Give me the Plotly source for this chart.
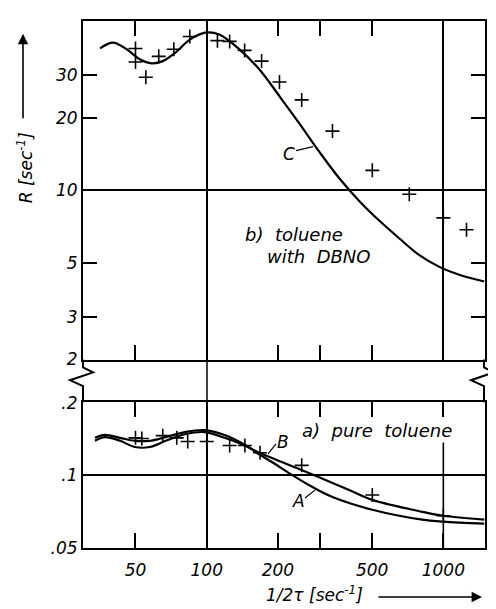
import plotly.graph_objects as go
import numpy as np

# ---------------- data ----------------
# panel b) toluene with DBNO : curve C and measured points
c_x = [35.4, 40.1, 45.9, 52.1, 58.6, 65.2, 74.7, 84.8, 100, 113, 137.8, 167.4, 203.2, 246.6, 299.8, 364, 442, 537, 652, 792, 962, 1168, 1489]
c_y = [38.7, 40.9, 38.4, 34.9, 33.6, 34.3, 37.6, 42.1, 45.1, 44.2, 38.3, 31.6, 24.5, 18.9, 14.4, 11.19, 9.02, 7.48, 6.32, 5.39, 4.82, 4.47, 4.19]
b_pts_x = [50, 50, 55.3, 62.7, 72.6, 84.8, 111, 125, 144.6, 170.6, 203, 252, 340, 501, 718, 1000, 1253]
b_pts_y = [38.7, 34.0, 29.4, 35.9, 38.4, 43.4, 41.7, 41.4, 38.0, 34.3, 28.1, 23.7, 17.6, 12.1, 9.63, 7.69, 6.87]

# panel a) pure toluene : curves A, B and measured points
a_x = [33.7, 37.1, 43.0, 49.7, 57.4, 67.1, 80.8, 98, 119, 144.6, 167, 190, 231, 280, 340, 501, 815, 1000, 1489]
a_y = [0.143, 0.147, 0.143, 0.139, 0.139, 0.144, 0.151, 0.154, 0.147, 0.134, 0.122, 0.113, 0.100, 0.0894, 0.0813, 0.0720, 0.0655, 0.0643, 0.0631]
bb_x = [33.7, 37.1, 43.0, 49.7, 57.4, 67.1, 80.8, 98, 119, 144.6, 167, 247, 300, 400, 501, 815, 1000, 1489]
bb_y = [0.139, 0.144, 0.139, 0.131, 0.131, 0.139, 0.148, 0.151, 0.143, 0.133, 0.124, 0.106, 0.098, 0.0869, 0.0791, 0.0706, 0.0680, 0.0655]
a_pts_x = [50, 53.2, 65.2, 74.7, 83.1, 100, 125, 145, 168, 252, 501, 1000]
a_pts_y = [0.143, 0.142, 0.146, 0.143, 0.138, 0.138, 0.133, 0.133, 0.124, 0.110, 0.0829, 0.068]

x_tickvals = [50, 100, 200, 300, 500, 1000]
x_ticktext = ["50", "100", "200", "", "500", "1000"]
x_grid = [100, 1000]
top_tickvals = [2, 3, 5, 10, 20, 30]
top_ticktext = ["2", "3", "5", "10", "20", "30"]
top_grid = [10]
bot_tickvals = [0.05, 0.1, 0.2]
bot_ticktext = [".05", ".1", ".2"]
bot_grid = [0.1]

# ---------------- layout geometry (screen pixels) ----------------
OFF = 8                      # page body margin
W, H = 496 - OFF, 609 - OFF  # figure size
L, R, T, B = 83, 485, 11, 548  # plot area in screen pixels
PH = B - T
y2px = 356   # bottom edge of upper panel (value 2)
dec = 246.0
bot_lo = np.log10(0.05)
bot_hi = np.log10(0.2) + 0.002
y02px = B - (bot_hi - bot_lo) * dec   # top edge of lower panel (just above .2)
top_lo = np.log10(2) - 0.002
top_hi = top_lo + (y2px - T) / dec

def fy(py):
    return (B - py) / PH

def fx(px):
    return (px - L) / (R - L)

FONT = dict(family="DejaVu Sans", size=17, color="black", style="italic")
FONT_L = dict(FONT, size=18)

fig = go.Figure()
line_kw = dict(color="black", width=2.2)
fig.add_trace(go.Scatter(x=c_x, y=c_y, mode="lines", line=dict(shape="spline", smoothing=1.0, **line_kw),
                         xaxis="x", yaxis="y", showlegend=False))
fig.add_trace(go.Scatter(x=b_pts_x, y=b_pts_y, mode="markers",
                         marker=dict(symbol="cross-thin", size=10, line=dict(color="black", width=1.6)),
                         xaxis="x", yaxis="y", showlegend=False))
fig.add_trace(go.Scatter(x=a_x, y=a_y, mode="lines", line=dict(shape="spline", smoothing=1.0, **line_kw),
                         xaxis="x2", yaxis="y2", showlegend=False))
fig.add_trace(go.Scatter(x=bb_x, y=bb_y, mode="lines", line=dict(shape="spline", smoothing=1.0, **line_kw),
                         xaxis="x2", yaxis="y2", showlegend=False))
fig.add_trace(go.Scatter(x=a_pts_x, y=a_pts_y, mode="markers",
                         marker=dict(symbol="cross-thin", size=10, line=dict(color="black", width=1.6)),
                         xaxis="x2", yaxis="y2", showlegend=False))

xr = [np.log10(30), np.log10(1500)]
common_x = dict(type="log", range=xr, tickvals=x_tickvals, ticks="inside", ticklen=15, tickwidth=1.5,
                tickcolor="black", showline=True, linecolor="black", linewidth=2, mirror="ticks",
                showgrid=False, zeroline=False)

fig.update_layout(
    width=W, height=H,
    margin=dict(l=L - OFF, r=W - (R - OFF), t=T - OFF, b=H - (B - OFF), pad=0),
    paper_bgcolor="white", plot_bgcolor="white", font=FONT,
    xaxis=dict(common_x, domain=[0, 1], anchor="y", showticklabels=False,
               minor=dict(tickvals=x_grid, showgrid=True, gridcolor="black", gridwidth=1.5, ticks="")),
    xaxis2=dict(common_x, domain=[0, 1], anchor="y2", ticktext=x_ticktext, showticklabels=True,
                tickfont=FONT, ticklabelstandoff=6,
                minor=dict(tickvals=x_grid[:1], showgrid=True, gridcolor="black", gridwidth=1.5, ticks="")),
    yaxis=dict(type="log", domain=[fy(y2px), 1], range=[top_lo, top_hi], anchor="x",
               tickvals=top_tickvals, ticktext=top_ticktext, ticks="inside", ticklen=14, tickwidth=1.5,
               tickcolor="black", showline=True, linecolor="black", linewidth=2, mirror="ticks",
               showgrid=False, zeroline=False, tickfont=FONT,
               minor=dict(tickvals=top_grid, showgrid=True, gridcolor="black", gridwidth=1.5, ticks="")),
    yaxis2=dict(type="log", domain=[0, fy(y02px)], range=[bot_lo, bot_hi], anchor="x2",
                tickvals=bot_tickvals, ticktext=bot_ticktext, ticks="inside", ticklen=14, tickwidth=1.5,
                tickcolor="black", showline=True, linecolor="black", linewidth=2, mirror="ticks",
                showgrid=False, zeroline=False, tickfont=FONT,
                minor=dict(tickvals=bot_grid, showgrid=True, gridcolor="black", gridwidth=1.5, ticks="")),
)

# 1000 grid line of the lower panel starts below the panel label
fig.add_shape(type="line", xref="x2", yref="paper", x0=x_grid[1], x1=x_grid[1], y0=fy(B), y1=fy(436),
              line=dict(color="black", width=1.6), layer="above")

# axis break marks (zigzag) on left and right borders between the panels
def zig(xc):
    pts = [(xc, y2px), (xc, 364), (xc + 10, 369), (xc - 13, 377), (xc, 383), (xc, y02px)]
    return "M " + " L ".join(f"{fx(px):.4f},{fy(py):.4f}" for px, py in pts)

fig.add_shape(type="path", path=zig(L), xref="paper", yref="paper", line=dict(color="black", width=2))
fig.add_shape(type="path", path=zig(R - 1), xref="paper", yref="paper", line=dict(color="black", width=2))
# 100 grid line continuing through the break
fig.add_shape(type="line", x0=fx(207), x1=fx(207), y0=fy(y2px), y1=fy(y02px), xref="paper", yref="paper",
              line=dict(color="black", width=1.5))

# text labels
def txt(s, px, py, anchor="left", font=FONT, **kw):
    fig.add_annotation(text=s, x=fx(px), y=fy(py), xref="paper", yref="paper", xanchor=anchor,
                       yanchor="middle", showarrow=False, font=font, **kw)

txt("b)  toluene", 243, 229, font=FONT_L, bgcolor="white")
txt("with  DBNO", 265, 251, font=FONT_L, bgcolor="white")
txt("a)  pure  toluene", 300, 428, font=FONT_L, bgcolor="white")
txt("C", 289, 147, anchor="center")
txt("B", 283, 440, anchor="center")
txt("A", 298, 500, anchor="center")

def seg(x0, y0, x1, y1, w=1.2):
    fig.add_shape(type="line", x0=fx(x0), y0=fy(y0), x1=fx(x1), y1=fy(y1), xref="paper", yref="paper",
                  line=dict(color="black", width=w))

seg(296, 143, 313, 139)
seg(276, 442, 268, 452)
seg(305, 497, 315, 489)

# axis titles with arrows
fig.add_annotation(text="R [sec<sup>-1</sup>]", x=fx(25), y=fy(160), xref="paper", yref="paper",
                   textangle=-90, showarrow=False, font=FONT, xanchor="center", yanchor="middle")
fig.add_annotation(text="", x=fx(23), y=fy(24), xref="paper", yref="paper",
                   ax=0, ay=86, axref="pixel", ayref="pixel", showarrow=True,
                   arrowhead=2, arrowsize=1.3, arrowwidth=1.6, arrowcolor="black")
fig.add_annotation(text="1/2τ [sec<sup>-1</sup>]", x=fx(314), y=fy(595), xref="paper", yref="paper",
                   showarrow=False, font=FONT, xanchor="center", yanchor="middle")
fig.add_annotation(text="", x=fx(482), y=fy(598), xref="paper", yref="paper",
                   ax=-105, ay=0, axref="pixel", ayref="pixel", showarrow=True,
                   arrowhead=2, arrowsize=1.3, arrowwidth=1.6, arrowcolor="black")

fig.write_html("out.html")
